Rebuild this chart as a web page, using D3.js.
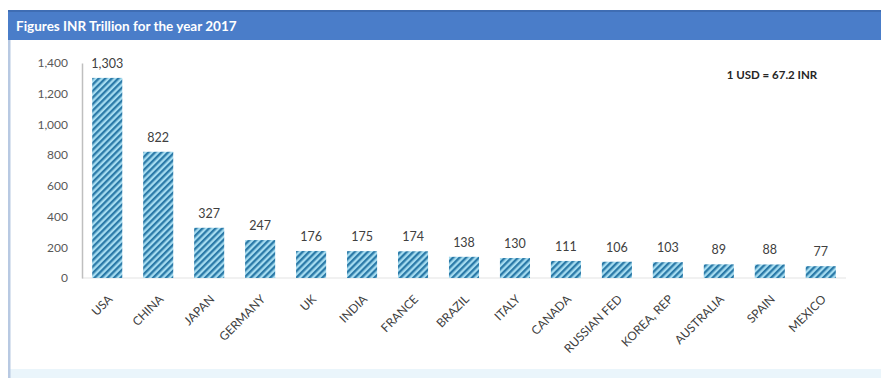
<!DOCTYPE html>
<html>
<head>
<meta charset="utf-8">
<script src="https://cdn.jsdelivr.net/npm/d3@7"></script>
<style>
  html, body { margin: 0; padding: 0; background: #ffffff; }
  svg { display: block; }
</style>
</head>
<body>
<svg id="chart" width="881" height="378"></svg>
<script>
// GDP by country, INR trillion, 2017
const countries = ["USA", "CHINA", "JAPAN", "GERMANY", "UK", "INDIA", "FRANCE", "BRAZIL",
  "ITALY", "CANADA", "RUSSIAN FED", "KOREA, REP", "AUSTRALIA", "SPAIN", "MEXICO"];
const gdpInr = [1303, 822, 327, 247, 176, 175, 174, 138, 130, 111, 106, 103, 89, 88, 77];
const yTicks = [0, 200, 400, 600, 800, 1000, 1200, 1400];
const titleText = "Figures INR Trillion for the year 2017";
const noteText = "1 USD = 67.2 INR";

const svg = d3.select("#chart");
const W = 881, H = 378;
const font = "Lato, 'Open Sans', sans-serif";

// panel background and frame
svg.append("rect").attr("x", 0).attr("y", 0).attr("width", W).attr("height", H).attr("fill", "#ffffff");
svg.append("rect").attr("x", 9).attr("y", 369).attr("width", W - 9).attr("height", H - 369).attr("fill", "#eaf5fb");
svg.append("rect").attr("x", 8).attr("y", 10).attr("width", 2.5).attr("height", H - 10).attr("fill", "#b8c9e2");

// title bar
svg.append("rect").attr("x", 8).attr("y", 10).attr("width", W - 8).attr("height", 30).attr("fill", "#4a7dc9");
svg.append("rect").attr("x", 8).attr("y", 10).attr("width", W - 8).attr("height", 2).attr("fill", "#3f6db3");
svg.append("text").attr("x", 16).attr("y", 31)
  .attr("font-family", font).attr("font-weight", "bold").attr("font-size", 13.5)
  .attr("fill", "#ffffff").text(titleText);

// hatch fill for bars
const defs = svg.append("defs");
const pat = defs.append("pattern").attr("id", "hatch")
  .attr("patternUnits", "userSpaceOnUse").attr("width", 4.6).attr("height", 4.6)
  .attr("patternTransform", "rotate(45)");
pat.append("rect").attr("width", 4.6).attr("height", 4.6).attr("fill", "#a6dcf0");
pat.append("rect").attr("x", 0).attr("y", 0).attr("width", 2.3).attr("height", 4.6).attr("fill", "#2b7aa8");

const margin = { left: 82, right: 35, top: 63, bottom: 100 };
const x = d3.scaleBand().domain(countries).range([margin.left, W - margin.right]).paddingInner(0.41).paddingOuter(0.2);
const y = d3.scaleLinear().domain([0, 1400]).range([278, 63]);

// baseline
svg.append("line").attr("x1", margin.left).attr("x2", W - margin.right)
  .attr("y1", y(0)).attr("y2", y(0)).attr("stroke", "#e3e3e3").attr("stroke-width", 1);

// y axis
const yAxis = d3.axisLeft(y).tickValues(yTicks).tickSize(0).tickPadding(14)
  .tickFormat(d3.format(","));
const gy = svg.append("g").attr("transform", `translate(${margin.left},0)`).call(yAxis);
gy.select(".domain").attr("stroke", "#bfbfbf").attr("stroke-width", 1.5);
gy.selectAll("text").attr("font-family", font).attr("font-size", 12).attr("fill", "#595959");

// bars
const data = countries.map((c, i) => ({ c, v: gdpInr[i] }));
svg.append("g").selectAll("rect").data(data).join("rect")
  .attr("x", d => x(d.c)).attr("width", x.bandwidth())
  .attr("y", d => y(d.v)).attr("height", d => y(0) - y(d.v))
  .attr("fill", "url(#hatch)");

// value labels
svg.append("g").selectAll("text").data(data).join("text")
  .attr("x", d => x(d.c) + x.bandwidth() / 2).attr("y", d => y(d.v) - 10)
  .attr("text-anchor", "middle").attr("font-family", font).attr("font-size", 12.5)
  .attr("fill", "#404040").text(d => d3.format(",")(d.v));

// category labels
const xAxis = d3.axisBottom(x).tickSize(0).tickPadding(0);
const gx = svg.append("g").attr("transform", `translate(0,${y(0)})`).call(xAxis);
gx.select(".domain").remove();
gx.selectAll("text")
  .attr("font-family", font).attr("font-size", 12).attr("fill", "#404040")
  .attr("text-anchor", "end").attr("dy", "0.35em")
  .attr("transform", "translate(3,19) rotate(-45)")
  .attr("y", 0).attr("x", 0);

// exchange rate note
svg.append("text").attr("x", 772).attr("y", 79).attr("text-anchor", "middle")
  .attr("font-family", font).attr("font-weight", "bold").attr("font-size", 11.5)
  .attr("fill", "#262626").text(noteText);
</script>
</body>
</html>
